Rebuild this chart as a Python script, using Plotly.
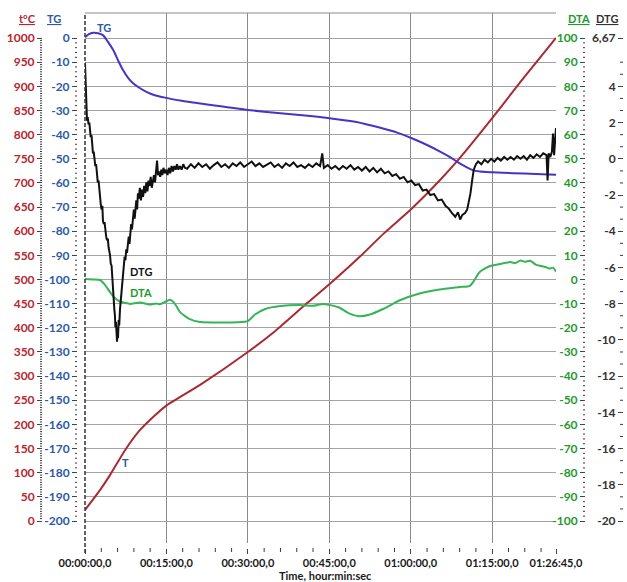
import plotly.graph_objects as go

# ---------------- data (time in minutes) ----------------
t_T = [0, 2.76, 4.6, 7.4, 10.1, 12.9, 15.1, 21.2, 30.0, 35.0, 40.5, 45.0, 50.7, 55.0,
       60.1, 65.4, 68.7, 75.0, 80.2, 86.75]
T_vals = [23, 64, 95, 147, 188, 219, 240, 282, 350, 393, 447, 490, 548, 595,
          646, 706, 747, 834, 909, 1000]

t_TG = [0, 0.7, 1.5, 2.4, 3.3, 4.2, 5.2, 6.1, 7.0, 7.9, 8.8, 10.0, 11.4, 13.0, 15.0, 17.5,
        20.6, 25.0, 30.0, 36.0, 40.0, 45.0, 50.0, 54.4, 57.5, 60.3, 63.0, 65.4, 67.0, 68.5,
        70.0, 71.3, 72.8, 75.0, 78.9, 83.0, 86.75]
TG_vals = [0.3, 1.6, 2.2, 2.0, 1.2, -1.5, -5.0, -9.3, -13.3, -16.4, -18.6, -20.6, -22.4, -23.8,
           -24.8, -25.9, -26.9, -28.3, -29.8, -31.2, -32.0, -33.2, -34.8, -37.2, -39.2, -41.6,
           -44.3, -47.0, -49.0, -51.2, -53.2, -54.6, -55.3, -55.6, -56.0, -56.3, -56.6]

t_DTA = [0, 1.5, 2.8, 3.7, 4.6, 5.5, 6.4, 7.4, 8.3, 10.1, 11.9, 13.1, 13.8, 15.0, 15.7, 16.6,
         17.5, 19.3, 21.2, 25.0, 28.0, 30.0, 31.3, 33.2, 36.0, 39.6, 42.0, 43.5, 45.0, 46.8,
         48.6, 50.5, 52.3, 55.1, 57.9, 61.6, 65.3, 69.0, 70.9, 71.8, 72.7, 74.6, 76.4, 77.5,
         78.3, 79.3, 80.2, 81.0, 82.0, 83.0, 84.0, 85.0, 85.5, 86.2, 86.75]
DTA_vals = [0.2, 0.0, -0.2, -2.3, -5.2, -7.7, -9.1, -9.7, -10.1, -9.5, -10.4, -9.9, -10.3,
            -9.0, -8.4, -10.2, -13.5, -16.4, -17.6, -17.8, -17.7, -17.2, -14.5, -12.2, -11.0,
            -10.6, -10.9, -10.2, -10.5, -11.6, -14.0, -15.2, -14.6, -12.0, -8.7, -5.8, -4.1,
            -3.1, -2.6, 0.0, 3.1, 5.6, 6.4, 6.9, 7.2, 6.8, 7.9, 7.3, 7.8, 6.2, 5.6, 5.0, 4.5,
            4.9, 3.2]

t_DTG = [0.00, 0.12, 0.25, 0.37, 0.50, 0.65, 0.80, 0.92, 1.05, 1.20,
         1.35, 1.47, 1.60, 1.75, 1.90, 2.05, 2.20, 2.35, 2.50, 2.65,
         2.76, 2.90, 3.05, 3.20, 3.30, 3.45, 3.60, 3.75, 3.90, 4.05,
         4.20, 4.35, 4.50, 4.60, 4.75, 4.90, 5.00, 5.10, 5.20, 5.30,
         5.40, 5.50, 5.60, 5.70, 5.80, 5.90, 6.00, 6.08, 6.20, 6.30,
         6.45, 6.60, 6.75, 6.90, 7.00, 7.15, 7.30, 7.45, 7.60, 7.74,
         7.90, 8.05, 8.20, 8.35, 8.50, 8.65, 8.84, 9.00, 9.15, 9.30,
         9.45, 9.60, 9.75, 9.90, 10.1, 10.3, 10.5, 10.7, 10.9, 11.1,
         11.3, 11.5, 11.7, 11.9, 12.1, 12.3, 12.5, 12.7, 12.9, 13.1,
         13.27, 13.45, 13.65, 13.85, 14.05, 14.25, 14.45, 14.7, 14.95, 15.2,
         15.45, 15.7, 15.95, 16.2, 16.45, 16.7, 16.95, 17.2, 17.5, 17.8,
         18.1, 18.4, 18.8, 19.5, 20.2, 20.9, 21.6, 22.3, 23.0, 23.7,
         24.4, 25.1, 25.8, 26.5, 27.2, 27.9, 28.6, 29.3, 30.0, 30.7,
         31.4, 32.1, 32.8, 33.5, 34.2, 34.9, 35.6, 36.3, 37.0, 37.7,
         38.4, 39.1, 39.8, 40.5, 41.2, 41.9, 42.6, 43.3, 43.7, 44.0,
         44.7, 45.4, 46.1, 46.8, 47.5, 48.2, 48.9, 49.6, 50.3, 51.0,
         51.7, 52.4, 53.1, 53.8, 54.5, 55.2, 55.9, 56.6, 57.3, 58.0,
         58.7, 59.4, 60.1, 60.8, 61.5, 62.2, 62.9, 63.6, 64.3, 65.0,
         65.7, 66.4, 67.0, 67.6, 68.2, 68.7, 69.1, 69.5, 70.0, 70.4,
         70.7, 71.0, 71.3, 71.6, 72.0, 72.4, 73.0, 73.6, 74.2, 74.8,
         75.4, 76.0, 76.6, 77.2, 77.8, 78.4, 79.0, 79.6, 80.2, 80.8,
         81.4, 82.0, 82.6, 83.2, 83.8, 84.4, 85.0, 85.2, 85.4, 85.7,
         86.0, 86.2, 86.4, 86.6, 86.75]
DTG_vals = [5.3, 4.1, 2.9, 2.1, 2.3, 1.9, 2.0, 1.7, 1.2, 1.3,
            0.7, 0.3, 0.4, -0.2, -0.4, -0.3, -1.0, -1.3, -1.2, -1.8,
            -1.9, -2.5, -2.8, -2.6, -3.4, -3.6, -3.5, -4.0, -4.3, -4.5,
            -4.4, -4.9, -5.1, -5.3, -5.8, -5.9, -6.4, -7.0, -7.7, -7.5,
            -8.3, -8.6, -9.3, -9.0, -9.8, -10.1, -9.4, -9.9, -8.9, -9.2,
            -8.3, -7.8, -7.2, -6.6, -6.3, -6.0, -5.4, -5.6, -5.0, -5.2,
            -4.5, -4.3, -4.7, -3.9, -3.6, -3.9, -3.2, -2.8, -3.3, -2.5,
            -2.3, -2.8, -1.9, -2.2, -1.6, -2.3, -1.7, -2.1, -1.5, -1.9,
            -1.3, -1.8, -1.2, -1.5, -1.0, -1.6, -1.2, -0.9, -1.3, -0.6,
            -0.1, -0.9, -0.7, -1.0, -0.6, -0.9, -0.5, -0.8, -0.6, -0.9,
            -0.5, -0.8, -0.4, -0.7, -0.4, -0.6, -0.3, -0.6, -0.4, -0.6,
            -0.3, -0.5, -0.55, -0.3, -0.5, -0.25, -0.45, -0.3, -0.55, -0.35,
            -0.2, -0.45, -0.3, -0.5, -0.25, -0.4, -0.2, -0.45, -0.3, -0.15,
            -0.4, -0.25, -0.45, -0.3, -0.2, -0.45, -0.3, -0.5, -0.25, -0.4,
            -0.2, -0.45, -0.35, -0.5, -0.3, -0.45, -0.25, -0.4, 0.3, -0.5,
            -0.35, -0.55, -0.4, -0.6, -0.4, -0.55, -0.35, -0.6, -0.45, -0.65,
            -0.45, -0.7, -0.5, -0.75, -0.55, -0.8, -0.7, -0.95, -0.85, -1.1,
            -1.0, -1.3, -1.2, -1.45, -1.4, -1.75, -1.7, -2.0, -1.95, -2.3,
            -2.25, -2.6, -2.75, -3.0, -3.2, -2.95, -3.35, -3.1, -3.0, -2.8,
            -2.4, -1.9, -1.2, -0.6, -0.3, -0.15, -0.3, -0.05, -0.2, 0.0,
            -0.15, 0.05, -0.1, 0.1, -0.05, 0.1, -0.05, 0.15, 0.0, 0.15,
            -0.05, 0.2, 0.05, 0.25, 0.1, 0.3, 0.2, -1.2, 0.3, 0.1,
            0.4, 1.4, 0.2, 1.6, 1.7]

x_tickvals = [0, 15, 30, 45, 60, 75, 86.75]
x_ticktext = ["00:00:00,0", "00:15:00,0", "00:30:00,0", "00:45:00,0",
              "01:00:00,0", "01:15:00,0", "01:26:45,0"]
T_ticks = list(range(0, 1001, 50))
TG_ticks = list(range(-200, 1, 10))
DTA_ticks = list(range(-100, 101, 10))
DTG_ticks = [6.67, 4, 2, 0, -2, -4, -6, -8, -10, -12, -14, -16, -18, -20]
DTG_ticktext = ["6,67", "4", "2", "0", "-2", "-4", "-6", "-8", "-10", "-12", "-14",
                "-16", "-18", "-20"]

# ---------------- geometry ----------------
W, H = 627, 582
PX_L, PX_R = 85, 556
PX_TOP, PX_BOT = 13, 543
PX_VMAX, PX_VMIN = 38, 521
X_MAX = 86.75


def fx(px):
    return px / W


def fy(py):
    return 1 - py / H


def yrange(vmin, vmax):
    s = (vmax - vmin) / (PX_VMIN - PX_VMAX)
    return [vmin - (PX_BOT - PX_VMIN) * s, vmax + (PX_VMAX - PX_TOP) * s]


FONT = "Lato, 'Open Sans', sans-serif"
C_T, C_TG, C_DTA, C_DTG = "#b8262e", "#2d5aa6", "#1f9a30", "#333333"
L_T, L_TG, L_DTA, L_DTG = "#a82a33", "#4634c8", "#35b555", "#111111"
GRID = "#a3a3a3"

fig = go.Figure()
fig.add_trace(go.Scatter(x=t_T, y=T_vals, mode="lines", yaxis="y",
                         line=dict(color=L_T, width=2, shape="spline", smoothing=0.6),
                         hoverinfo="skip"))
fig.add_trace(go.Scatter(x=t_DTA, y=DTA_vals, mode="lines", yaxis="y3",
                         line=dict(color=L_DTA, width=2, shape="spline", smoothing=0.6),
                         hoverinfo="skip"))
fig.add_trace(go.Scatter(x=t_TG, y=TG_vals, mode="lines", yaxis="y2",
                         line=dict(color=L_TG, width=2, shape="spline", smoothing=0.6),
                         hoverinfo="skip"))
fig.add_trace(go.Scatter(x=t_DTG, y=DTG_vals, mode="lines", yaxis="y4",
                         line=dict(color=L_DTG, width=2), hoverinfo="skip"))
# empty carrier so that the time-label axis is drawn
fig.add_trace(go.Scatter(x=[0, X_MAX], y=[None, None], xaxis="x2", yaxis="y",
                         mode="lines", hoverinfo="skip", showlegend=False))


def yax(rng, ticks, ticktext, color, pos, grid=False, overlay=True):
    d = dict(range=rng, tickmode="array", tickvals=ticks, ticktext=ticktext,
             anchor="free", position=pos, side="left",
             ticks="outside", ticklen=5, tickwidth=1, tickcolor="#444",
             tickfont=dict(family=FONT, size=12, color=color, weight="bold"),
             showline=False, zeroline=False, showgrid=grid, gridcolor=GRID, gridwidth=1,
             automargin=False, fixedrange=True)
    if overlay:
        d["overlaying"] = "y"
    else:
        d["domain"] = [fy(PX_BOT), fy(PX_TOP)]
    return d


R_T, R_TG, R_DTA, R_DTG = yrange(0, 1000), yrange(-200, 0), yrange(-100, 100), yrange(-20, 6.67)
Y_DOM = [fy(PX_BOT), fy(PX_TOP)]
X_DOM = [fx(PX_L), fx(PX_R)]

fig.update_layout(
    width=W, height=H, margin=dict(l=0, r=0, t=0, b=0),
    paper_bgcolor="white", plot_bgcolor="white", showlegend=False,
    template="none",
    xaxis=dict(domain=X_DOM, range=[0, X_MAX], anchor="y",
               tickmode="array", tickvals=[15, 30, 45, 60, 75], showticklabels=False,
               ticks="", showgrid=True, gridcolor="#8a8a8a", gridwidth=1,
               zeroline=False, showline=False, automargin=False, fixedrange=True),
    xaxis2=dict(overlaying="x", range=[0, X_MAX], anchor="free", position=fy(548),
                tickmode="array", tickvals=x_tickvals, ticktext=x_ticktext,
                ticks="outside", ticklen=5, tickwidth=1, tickcolor="#444",
                tickfont=dict(family=FONT, size=11, color="#1a1a1a", weight="bold"),
                showgrid=False, zeroline=False, showline=False, automargin=False,
                fixedrange=True),
    yaxis=yax(R_T, T_ticks, [str(v) for v in T_ticks], C_T, fx(42), grid=True, overlay=False),
    yaxis2=yax(R_TG, TG_ticks, [str(v) for v in TG_ticks], C_TG, fx(77)),
    yaxis3=yax(R_DTA, DTA_ticks, [str(v) for v in DTA_ticks], C_DTA, fx(585)),
    yaxis4=yax(R_DTG, DTG_ticks, DTG_ticktext, C_DTG, fx(623)),
)


def to_paper_y(v, rng):
    return Y_DOM[0] + (v - rng[0]) / (rng[1] - rng[0]) * (Y_DOM[1] - Y_DOM[0])


def to_paper_x(v):
    return X_DOM[0] + v / X_MAX * (X_DOM[1] - X_DOM[0])


# minor tick marks (axis decoration) in paper space, so they are not clipped
shapes = []
TICK_C = "#3a3a3a"


def ytick_marks(rng, vals, pos_px, ln):
    for v in vals:
        py = to_paper_y(v, rng)
        shapes.append(dict(type="line", xref="paper", yref="paper",
                           x0=fx(pos_px - ln), x1=fx(pos_px), y0=py, y1=py,
                           line=dict(color=TICK_C, width=1)))


ytick_marks(R_T, [v * 5 for v in range(0, 201) if v % 10], 42, 2)
ytick_marks(R_TG, [v * 2 for v in range(-100, 1) if v % 5], 77, 2)
ytick_marks(R_DTA, [v * 2 for v in range(-50, 51) if v % 5], 585, 2)
ytick_marks(R_DTG, [v * 2 / 3 for v in range(-30, 10) if v % 3], 623, 3)
for m in range(1, 29):
    xv = 3 * m
    if xv % 15 == 0 or xv > X_MAX:
        continue
    px = to_paper_x(xv)
    shapes.append(dict(type="line", xref="paper", yref="paper", x0=px, x1=px,
                       y0=fy(552), y1=fy(548), line=dict(color=TICK_C, width=1)))

# frame line on top and dashed start line
shapes.append(dict(type="line", xref="paper", yref="paper", x0=X_DOM[0], x1=X_DOM[1],
                   y0=Y_DOM[1], y1=Y_DOM[1], line=dict(color="#8a8a8a", width=1)))
shapes.append(dict(type="line", xref="paper", yref="paper", x0=to_paper_x(0), x1=to_paper_x(0),
                   y0=fy(553), y1=Y_DOM[1], line=dict(color="#333", width=1.5, dash="4px,2px")))
fig.update_layout(shapes=shapes)


def ann(text, px, py, color, size=11):
    fig.add_annotation(text=text, x=fx(px), y=fy(py), xref="paper", yref="paper",
                       showarrow=False, xanchor="center", yanchor="middle",
                       font=dict(family=FONT, size=size, color=color, weight="bold"))


ann("<u>t°C</u>", 27, 19, C_T)
ann("<u>TG</u>", 54, 19, C_TG)
ann("<u>DTA</u>", 579, 19, C_DTA)
ann("<u>DTG</u>", 607, 19, C_DTG)
ann("TG", 104, 27, C_TG)
ann("DTG", 141, 271, "#111")
ann("DTA", 141, 292, C_DTA)
ann("T", 125, 462, C_TG)
ann("Time, hour:min:sec", 325, 575, "#1a1a1a")

fig.write_html("out.html")
